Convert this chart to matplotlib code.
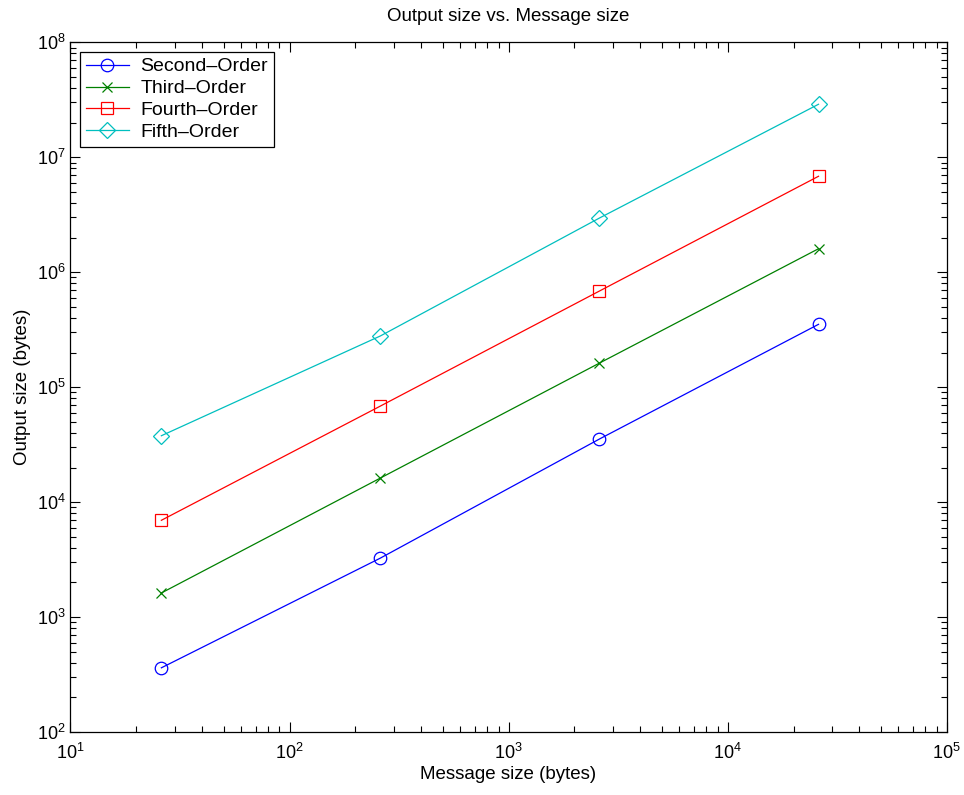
import numpy as np
import matplotlib
matplotlib.use("Agg")
import matplotlib.pyplot as plt

plt.rcParams['font.family'] = ['Liberation Sans', 'DejaVu Sans']
plt.rcParams['mathtext.default'] = 'regular'

# message sizes (bytes)
msg_size = [26, 260, 2600, 26000]

# output sizes (bytes)
second_order = [362, 3260, 35400, 352000]
third_order = [1620, 16200, 162000, 1600000]
fourth_order = [6950, 68500, 686000, 6830000]
fifth_order = [37800, 279000, 2960000, 28900000]

labels = ['Second\u2013Order', 'Third\u2013Order', 'Fourth\u2013Order', 'Fifth\u2013Order']
colors = ['#0000ff', '#008000', '#ff0000', '#00bfbf']
markers = ['o', 'x', 's', 'D']
msizes = [9, 7, 8, 8]

fig = plt.figure(figsize=(9.64, 7.95), dpi=100)
ax = fig.add_axes([0.0731, 0.0792, 0.9089, 0.8676])

series = [second_order, third_order, fourth_order, fifth_order]
for ys, lab, c, m, ms in zip(series, labels, colors, markers, msizes):
	ax.loglog(msg_size, ys, color=c, marker=m, markersize=ms, markerfacecolor='none',
		markeredgecolor=c, markeredgewidth=0.9, linewidth=0.9, label=lab)

ax.set_xlim(10, 1e5)
ax.set_ylim(1e2, 1e8)
ax.tick_params(which='both', direction='in', top=True, right=True, labelsize=13)
ax.tick_params(which='major', length=7, width=0.8)
ax.tick_params(which='minor', length=4, width=0.8)
ax.tick_params(axis='x', pad=8)
for s in ax.spines.values():
	s.set_linewidth(0.9)

ax.set_title('Output size vs. Message size', fontsize=13.5, pad=15)
ax.set_xlabel('Message size (bytes)', fontsize=13.5, labelpad=2)
ax.set_ylabel('Output size (bytes)', fontsize=13.5, labelpad=4)

leg = ax.legend(loc='upper left', fontsize=14, fancybox=False, edgecolor='black',
	framealpha=1, handlelength=2.2, borderpad=0.3, labelspacing=0.22,
	handletextpad=0.6, borderaxespad=0.5)
leg.get_frame().set_linewidth(0.9)

fig.savefig('out.png', dpi=100)
